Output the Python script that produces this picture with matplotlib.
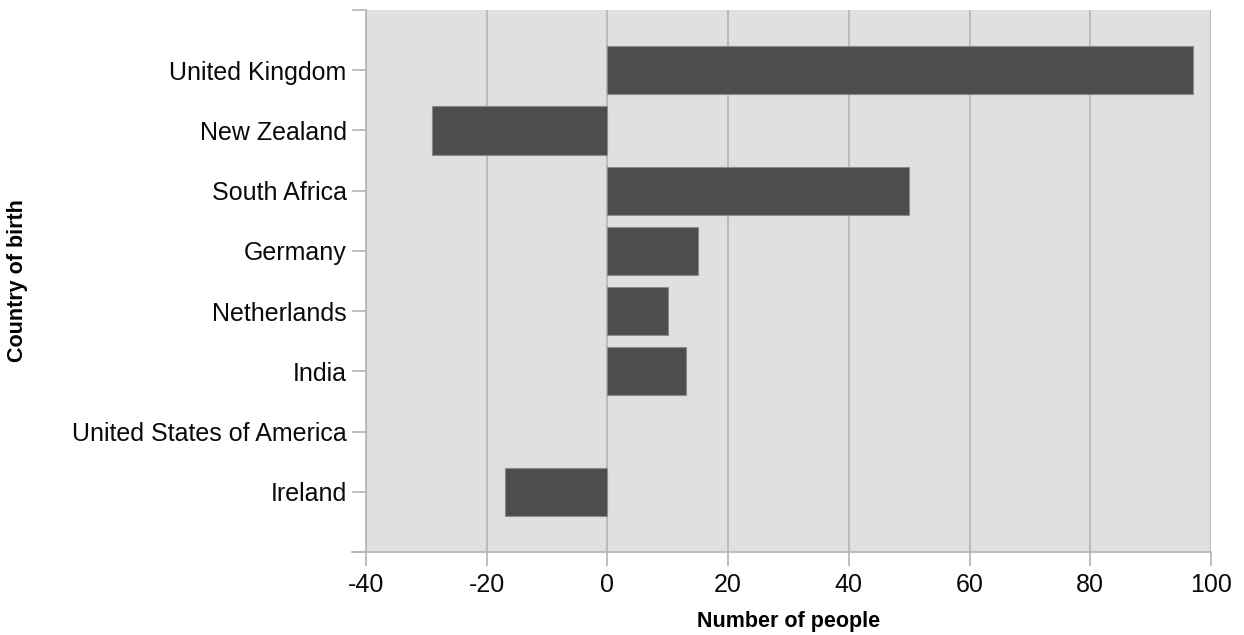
import matplotlib
matplotlib.use("Agg")
import matplotlib.pyplot as plt
from matplotlib.ticker import FixedLocator

countries = ["United Kingdom", "New Zealand", "South Africa", "Germany",
             "Netherlands", "India", "United States of America", "Ireland"]
values = [97, -29, 50, 15, 10, 13, 0, -17]
x_ticks = [-40, -20, 0, 20, 40, 60, 80, 100]

plt.rcParams['font.family'] = ['Liberation Sans', 'DejaVu Sans']

W, H = 1244, 635
fig = plt.figure(figsize=(W / 100, H / 100), dpi=100)
ax = fig.add_axes([366 / W, 1 - 552 / H, (1211 - 366) / W, (552 - 10) / H])

bg = "#e0e0e0"
grid_c = "#b4b4b4"
bar_c = "#4d4d4d"

ax.set_facecolor(bg)
pos = list(range(len(countries)))
lws = [0.8 if v != 0 else 0 for v in values]
ax.barh(pos, values, height=0.8, color=bar_c, edgecolor="#8a8a8a", linewidth=lws, zorder=3)

ax.set_xlim(-40, 100)
ax.set_ylim(len(countries), -1)
ax.set_xticks(x_ticks)
ax.set_xticklabels([str(v) for v in x_ticks])
ax.set_yticks(pos)
ax.set_yticklabels(countries)
ax.yaxis.set_minor_locator(FixedLocator([-1, len(countries)]))

ax.grid(axis="x", color=grid_c, linewidth=1.2, zorder=1)
ax.set_axisbelow(True)

for s in ["top", "right"]:
    ax.spines[s].set_visible(False)
for s in ["left", "bottom"]:
    ax.spines[s].set_color(grid_c)
    ax.spines[s].set_linewidth(1.2)

ax.tick_params(axis="both", which="both", length=10, width=1.2, color=grid_c,
               labelsize=18, labelcolor="#0a0a0a")
ax.tick_params(axis="y", which="both", pad=4)
ax.tick_params(axis="x", pad=5)

# extend bottom axis line to the left, under the y ticks
ax.plot([-14 / 845, 0], [0, 0], transform=ax.transAxes, color=grid_c,
        linewidth=1.2, clip_on=False, zorder=5)

ax.set_xlabel("Number of people", fontsize=15.5, fontweight="bold", labelpad=10)
fig.text(18 / W, 1 - 281 / H, "Country of birth", rotation=90, fontsize=15.5,
         fontweight="bold", ha="center", va="center")

fig.savefig("out.png", dpi=100)
